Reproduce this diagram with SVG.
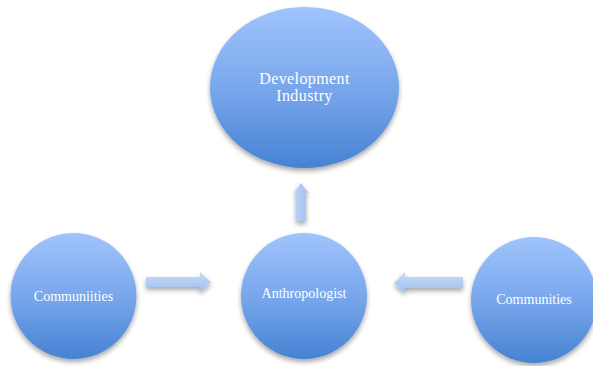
<svg xmlns="http://www.w3.org/2000/svg" width="593" height="366" viewBox="0 0 593 366">
  <defs>
    <linearGradient id="nodeFill" x1="0" y1="0" x2="0" y2="1">
      <stop offset="0" stop-color="#a0c4fc"/>
      <stop offset="0.5" stop-color="#79a7ec"/>
      <stop offset="1" stop-color="#4682d3"/>
    </linearGradient>
    <linearGradient id="arrowFillH" x1="0" y1="0" x2="0" y2="1">
      <stop offset="0" stop-color="#cadcf6"/>
      <stop offset="1" stop-color="#9fbeee"/>
    </linearGradient>
    <linearGradient id="arrowFillV" x1="0" y1="0" x2="1" y2="0">
      <stop offset="0" stop-color="#bcd3f5"/>
      <stop offset="1" stop-color="#a3c1ef"/>
    </linearGradient>
    <filter id="shadow" x="-20%" y="-20%" width="140%" height="150%">
      <feGaussianBlur in="SourceAlpha" stdDeviation="2.5"/>
      <feOffset dx="0" dy="2.5" result="b"/>
      <feComponentTransfer><feFuncA type="linear" slope="0.35"/></feComponentTransfer>
      <feMerge><feMergeNode/><feMergeNode in="SourceGraphic"/></feMerge>
    </filter>
  </defs>
  <style>
    .node { fill: url(#nodeFill); filter: url(#shadow); }
    .label { font-family: "Liberation Serif", "DejaVu Serif", serif; fill: #ffffff; text-anchor: middle; font-size: 14px; }
    .title { font-size: 16px; letter-spacing: 0.4px; }
    .arrow { filter: url(#shadow); }
  </style>

  <rect width="593" height="366" fill="#ffffff"/>

  <g id="connectors">
    <!-- Communiities -> Anthropologist -->
    <path class="arrow" fill="url(#arrowFillH)" d="M146 277 L200 277 L200 272 L211 282 L200 292 L200 287 L146 287 Z"/>
    <!-- Communities -> Anthropologist -->
    <path class="arrow" fill="url(#arrowFillH)" d="M463 277 L405 277 L405 272 L394 283 L405 293 L405 288 L463 288 Z"/>
    <!-- Anthropologist -> Development Industry -->
    <path class="arrow" fill="url(#arrowFillV)" d="M296 221 L296 193 L293.5 193 L301 183 L308.5 193 L306 193 L306 221 Z"/>
  </g>

  <g id="development-industry">
    <ellipse class="node" cx="304.5" cy="87.5" rx="94.5" ry="80.5"/>
    <text class="label title" x="304.5" y="84">Development</text>
    <text class="label title" x="304.5" y="101">Industry</text>
  </g>

  <g id="communiities">
    <circle class="node" cx="73.5" cy="296" r="63"/>
    <text class="label" x="73.5" y="301">Communiities</text>
  </g>

  <g id="anthropologist">
    <circle class="node" cx="304" cy="296" r="63"/>
    <text class="label" x="304" y="298">Anthropologist</text>
  </g>

  <g id="communities">
    <circle class="node" cx="534" cy="300" r="63"/>
    <text class="label" x="534" y="304">Communities</text>
  </g>
</svg>
